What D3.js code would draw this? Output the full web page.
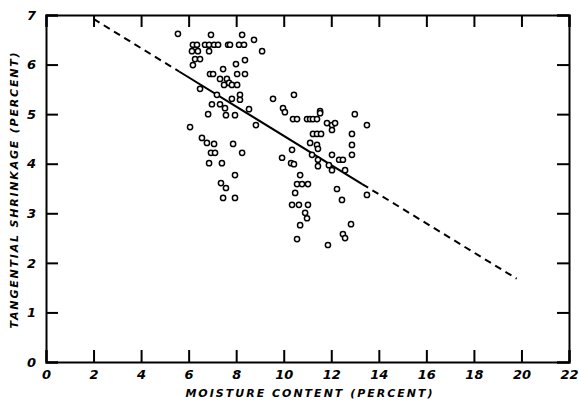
<!DOCTYPE html>
<html><head><meta charset="utf-8">
<script src="https://cdn.jsdelivr.net/npm/d3@7"></script>
<style>
body{margin:0;background:#fff;}
text{font-family:"DejaVu Sans",sans-serif;font-style:italic;fill:#000;}
</style></head>
<body><svg id="c" width="579" height="404"></svg>
<script>
const xTicks = [0,2,4,6,8,10,12,14,16,18,20,22];
const yTicks = [0,1,2,3,4,5,6,7];
const xLabel = "MOISTURE CONTENT (PERCENT)";
const yLabel = "TANGENTIAL SHRINKAGE (PERCENT)";
// observed points: moisture content (%), tangential shrinkage (%)
const moisture = [
 5.55,6.94,8.25,8.75,9.09,
 6.18,6.35,6.69,6.86,7.07,7.24,7.66,7.74,8.12,8.33,
 6.14,6.39,6.86,6.27,6.48,6.18,
 7.45,7.99,8.37,6.90,7.03,8.04,8.37,
 7.32,7.61,7.70,7.49,7.82,8.04,6.48,
 7.19,7.82,8.16,8.16,6.98,7.32,7.53,7.57,7.95,8.54,6.82,
 8.83,6.06,6.56,6.77,7.07,7.87,6.94,7.11,8.25,6.86,7.40,
 7.95,7.36,7.57,7.45,7.95,
 9.55,10.43,9.97,10.05,
 10.39,10.56,10.98,11.11,11.23,11.40,11.53,11.53,
 11.82,12.03,12.16,12.03,12.99,13.50,
 11.23,11.40,11.57,12.87,11.11,11.40,11.44,10.35,12.87,12.87,9.93,
 10.31,10.43,11.19,11.44,12.03,12.33,12.49,12.58,11.44,11.90,12.03,
 10.69,10.56,10.77,11.02,10.48,12.24,12.45,13.50,
 10.35,10.64,11.02,10.90,10.98,10.69,12.83,12.49,12.58,10.56,11.86
];
const shrinkage = [
 6.62,6.60,6.60,6.50,6.27,
 6.40,6.40,6.40,6.40,6.40,6.40,6.40,6.40,6.40,6.40,
 6.27,6.27,6.27,6.11,6.11,5.99,
 5.91,6.01,6.09,5.81,5.81,5.81,5.81,
 5.71,5.71,5.63,5.59,5.59,5.59,5.51,
 5.39,5.31,5.39,5.29,5.20,5.20,5.12,4.98,4.98,5.10,5.00,
 4.78,4.74,4.52,4.42,4.40,4.40,4.22,4.22,4.22,4.01,4.01,
 3.77,3.61,3.51,3.31,3.31,
 5.31,5.39,5.12,5.04,
 4.90,4.90,4.90,4.90,4.90,4.90,5.06,5.02,
 4.82,4.78,4.82,4.68,5.00,4.78,
 4.60,4.60,4.60,4.60,4.42,4.38,4.30,4.28,4.38,4.18,4.12,
 4.01,3.99,4.18,4.08,4.18,4.08,4.08,3.87,3.95,3.97,3.87,
 3.77,3.59,3.59,3.59,3.41,3.49,3.27,3.37,
 3.17,3.17,3.17,3.01,2.90,2.76,2.78,2.58,2.50,2.48,2.36
];
// fitted regression line: dashed outside the data range, solid inside
const fitX = [2, 5.6, 13.3, 19.8];
const fitY = [6.92, 5.86, 3.59, 1.68];

const svg = d3.select("#c");
svg.append("rect").attr("width",579).attr("height",404).attr("fill","#fff");
const x = d3.scaleLinear().domain([0,22]).range([46,569]);
const y = d3.scaleLinear().domain([0,7]).range([362,15]);
const tl = 12;

const fmt = d => d;
const gB = svg.append("g").attr("transform",`translate(0,${y(0)})`)
  .call(d3.axisBottom(x).tickValues(xTicks).tickSize(-tl).tickPadding(8).tickFormat(fmt));
const gT = svg.append("g").attr("transform",`translate(0,${y(7)})`)
  .call(d3.axisTop(x).tickValues(xTicks).tickSize(-tl).tickFormat(""));
const gL = svg.append("g").attr("transform",`translate(${x(0)},0)`)
  .call(d3.axisLeft(y).tickValues(yTicks).tickSize(-tl).tickPadding(10).tickFormat(fmt));
const gR = svg.append("g").attr("transform",`translate(${x(22)},0)`)
  .call(d3.axisRight(y).tickValues(yTicks).tickSize(-tl).tickFormat(""));
[gB,gT,gL,gR].forEach(g=>{
  g.select(".domain").attr("stroke","#000").attr("stroke-width",2);
  g.selectAll(".tick line").attr("stroke","#000").attr("stroke-width",2);
  g.selectAll(".tick text").style("font-family","'DejaVu Sans',sans-serif")
   .style("font-style","italic").style("font-weight","bold").style("font-size","13px").attr("fill","#000");
});

// regression line
const seg = (i) => [[fitX[i],fitY[i]],[fitX[i+1],fitY[i+1]]];
const line = d3.line().x(d=>x(d[0])).y(d=>y(d[1]));
[0,1,2].forEach(i=>{
  svg.append("path").attr("d",line(seg(i))).attr("fill","none")
    .attr("stroke","#000").attr("stroke-width",2)
    .attr("stroke-dasharray", i===1 ? null : "7,5");
});

// points
svg.append("g").selectAll("circle").data(moisture.map((m,i)=>[m,shrinkage[i]]))
  .join("circle").attr("cx",d=>x(d[0])).attr("cy",d=>y(d[1])).attr("r",2.6)
  .attr("fill","#fff").attr("stroke","#000").attr("stroke-width",1.5);

svg.append("text").attr("x",310).attr("y",397).attr("text-anchor","middle")
  .style("font-size","11px").style("letter-spacing","2px").style("font-weight","bold").text(xLabel);
svg.append("text").attr("transform",`translate(18,${(y(0)+y(7))/2+1}) rotate(-90)`)
  .attr("text-anchor","middle").style("font-size","11px").style("letter-spacing","1.8px").style("font-weight","bold").text(yLabel);
</script></body></html>
